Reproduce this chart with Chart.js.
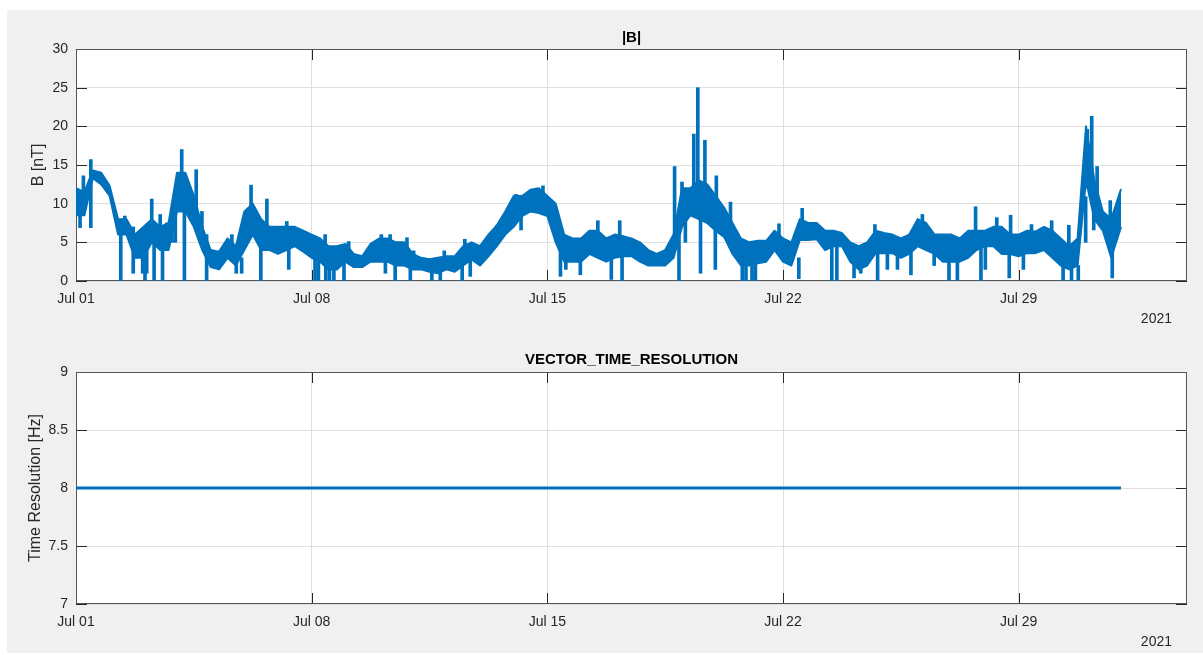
<!DOCTYPE html>
<html><head><meta charset="utf-8">
<script src="https://cdn.jsdelivr.net/npm/chart.js@4.4.1/dist/chart.umd.min.js"></script>
<style>
html,body{margin:0;padding:0;background:#fff;width:1203px;height:655px;overflow:hidden;}
#fig{position:absolute;left:7px;top:10px;width:1196px;height:643px;background:#f0f0f0;}
canvas{position:absolute;left:0;}
#c1{top:0;} #c2{top:330px;}
</style></head><body>
<div id="fig"></div>
<canvas id="c1" width="1203" height="330"></canvas>
<canvas id="c2" width="1203" height="325"></canvas>
<script>
// ---- data (time in days since 2021-07-01 00:00) ----
const binDays = 0.25; // 6-hour bins
// upper edge of the |B| body per 6h bin [nT]
const bandHigh = [
  12,11.5,14.3,14,  12.3,8,8,6,  7,8,7,7.5,  14,14,11,7,
  4,3.8,5.5,4.5,  9,10,8,7,  7,7,7,6.5,  6,5.5,4.5,4.5,
  4.8,3.5,3.2,4.8,  5.5,5.5,5,5,  3.5,3,2.8,3,  3.2,3.2,4.5,5,
  4.5,6,7.2,9,  11,11,11.8,12,  11,10,6,5.5,  5.5,6.5,6.5,5.5,
  6,5.8,5.5,5,  4,3.5,4,6,  12,12,13,12.5,  11,9.5,7.5,5.5,
  5,5.2,5.2,6.5,  5.5,5,8,7.5,  7.5,6.5,6.5,6.2,  5,4.5,5,6.5,
  6.2,6,5.5,6,  8,7.5,6,6,  6,5.5,6.5,6.5,  6.5,7,7,6,
  6,6.5,6.4,7,  6.5,5.5,4.5,5.5,  20,13,9,8
];
// lower edge of the |B| body per 6h bin [nT]
const bandLow = [
  8.5,8.5,13.3,12.5,  11,6,6,3,  3,5,4,4,  9,9,7,4,
  1.8,1.5,3,2,  4,6,4,4,  3.5,4,4.5,3.8,  3,2.5,1.5,1.5,
  2.5,1.8,1.8,2.5,  2.5,2.5,2,2,  1.5,1.5,1.2,1,  1.5,1.2,2,2.8,
  2,3.2,4.5,6,  7,8.4,9,8.8,  8.4,5,2.5,2.5,  2.5,3.5,3,2.5,
  3,3.2,3.2,2.5,  2,2,2,3,  7,8.5,8,7.5,  6.5,5.7,3.5,2,
  2,2.3,2.5,4,  2.5,2,5.3,5.3,  5.4,4,4.5,4.5,  2.5,1.5,2,3.6,
  3.6,3.6,3,3.5,  4.5,4,3.5,2.5,  2.5,2.5,3,4,  4.5,4.5,3.5,3.5,
  3.2,3.6,3.6,4,  3,2,1.5,2,  13,8,6.5,3
];
const bandEndDay = 31.04, bandEndHigh = 11.9, bandEndLow = 7;
// short excursions (spikes) of |B|: time [day], lowest and highest value [nT]
const spikeDays = [
  0.12,0.22,0.44,1.33,1.45,1.70,1.98,2.05,2.10,2.25,
  2.32,2.50,2.57,2.70,2.85,2.95,3.14,3.22,3.57,3.74,
  3.88,4.63,4.76,4.92,5.20,5.49,5.67,6.26,6.32,7.10,
  7.20,7.40,7.42,7.53,7.66,7.96,8.10,9.07,9.19,9.33,
  9.48,9.83,9.93,10.03,10.57,10.82,10.94,11.47,11.55,11.71,
  12.50,13.07,13.22,13.87,14.39,14.55,14.98,15.50,15.90,16.15,
  16.22,17.78,17.91,18.00,18.10,18.35,18.47,18.55,18.68,18.99,
  19.02,19.44,19.79,19.90,20.08,20.18,20.88,21.47,21.57,22.45,
  22.60,23.11,23.31,23.73,23.81,24.10,24.40,24.80,25.14,25.49,
  25.93,26.18,26.72,26.88,27.01,27.35,27.72,27.76,28.14,28.38,
  28.98,29.32,29.49,29.57,29.77,29.99,30.04,30.17,30.23,30.33,
  30.72,30.78
];
const spikeLows = [
  6.9,10,6.9,0,6,1,1,0,1,5,
  0,5,0,5,5,5,10,0,9,5,
  0,3,1,1,6,0,5,4,1.5,0,
  0,3,0,0,0,0,3,3,1,3,
  0,3,0,2,0,0,2,0,3,0.6,
  5,9,6.6,10,0.6,1.5,0.8,5,0.2,4,
  0,4,0,9,5,10,10,1,10,1.5,
  9,6,0,0,0,0,5,0.3,6,0,
  0,0.4,1,4,0,1.5,1.5,0.8,6,2,
  0,0,5,0,1.5,6,0.4,6,1.5,5,
  6,0,4,0,0,5,12,14,6.6,10,
  7,0.4
];
const spikeHighs = [
  10,13.6,15.7,7,8.4,7,4,5,4,10.6,
  6,8.6,6,7.5,7.5,9.6,17,12,14.4,9,
  6,6,3,3,12.4,7,10.6,7.7,5,4,
  3,6,3,4,3,3,5.1,6,3,6,
  4,5.6,3,3.9,2,2,3.9,2,5.4,3,
  7.2,11.2,9,12.3,6,4,3,7.8,3,7.8,
  4,14.8,8,12.8,8,19,25,9,18.2,8,
  13.6,10.2,3,3,3,3,7.4,3,9.4,5,
  5,3,2,7.3,4,4,4,4,8.6,4.5,
  3,3,9.6,4.5,4.5,8.2,4,8.5,3.5,7.3,
  7.8,2.5,7.2,2,2,10.9,19.6,21.3,10,14.8,
  10.4,5
];
const resTimes = [0, 31.04];
const resValues = [8, 8];
const tickDays = [0, 7, 14, 21, 28];
const tickLabels = ['Jul 01', 'Jul 08', 'Jul 15', 'Jul 22', 'Jul 29'];
const yearLabel = '2021';

// ---- build datasets ----
const hiPts = bandHigh.map((v, i) => ({x: i * binDays, y: v}));
hiPts.push({x: bandEndDay, y: bandEndHigh});
const loPts = bandLow.map((v, i) => ({x: i * binDays, y: v}));
loPts.push({x: bandEndDay, y: bandEndLow});
const spikePts = spikeDays.map((d, i) => ({x: d, y: [spikeLows[i], spikeHighs[i]]}));
const resPoints = resTimes.map((t, i) => ({x: t, y: resValues[i]}));

const FONT = "'Liberation Sans', Arial, Helvetica, sans-serif";
const TXT = '#262626';
const GRID = '#dfdfdf';
const BLUE = '#0072BD';

const matlabAxes = {
  id: 'matlabAxes',
  beforeDraw(chart) {
    const {ctx, chartArea: a} = chart;
    ctx.save();
    ctx.fillStyle = '#ffffff';
    ctx.fillRect(a.left, a.top, a.right - a.left, a.bottom - a.top);
    ctx.restore();
  },
  beforeDatasetsDraw(chart) {
    const {ctx, chartArea: a, scales} = chart;
    const L = 11;
    ctx.save();
    ctx.strokeStyle = TXT; ctx.lineWidth = 1;
    ctx.beginPath();
    scales.x.ticks.forEach(t => {
      const px = Math.round(scales.x.getPixelForValue(t.value)) + 0.5;
      ctx.moveTo(px, a.bottom); ctx.lineTo(px, a.bottom - L);
      ctx.moveTo(px, a.top); ctx.lineTo(px, a.top + L);
    });
    scales.y.ticks.forEach(t => {
      const py = Math.round(scales.y.getPixelForValue(t.value)) + 0.5;
      ctx.moveTo(a.left, py); ctx.lineTo(a.left + L, py);
      ctx.moveTo(a.right, py); ctx.lineTo(a.right - L, py);
    });
    ctx.stroke();
    ctx.strokeStyle = '#555555';
    ctx.strokeRect(a.left + 0.5, a.top + 0.5, a.right - a.left - 1, a.bottom - a.top - 1);
    ctx.restore();
  },
  afterDraw(chart, args, o) {
    const {ctx, chartArea: a} = chart;
    ctx.save();
    ctx.fillStyle = '#000000';
    ctx.font = 'bold 15px ' + FONT;
    ctx.textAlign = 'center'; ctx.textBaseline = 'middle';
    ctx.fillText(o.title, (a.left + a.right) / 2, a.top - o.titleGap);
    ctx.fillStyle = TXT;
    ctx.font = '14px ' + FONT;
    ctx.textAlign = 'right';
    ctx.fillText(yearLabel, a.right - 15, o.yearY);
    ctx.restore();
  }
};

function xScale(h) {
  return {
    type: 'linear', min: 0, max: 33, offset: false,
    afterBuildTicks: s => { s.ticks = tickDays.map(v => ({value: v})); },
    afterFit: s => { s.height = h; },
    ticks: {callback: (v, i) => tickLabels[i], color: TXT, font: {family: FONT, size: 14}, padding: 10, maxRotation: 0, autoSkip: false},
    grid: {color: GRID, drawTicks: false, lineWidth: 1, offset: false},
    border: {display: false}
  };
}
function yScale(min, max, step, title, pad) {
  return {
    type: 'linear', min: min, max: max,
    ticks: {stepSize: step, color: TXT, font: {family: FONT, size: 14}, padding: 8, callback: v => String(v)},
    afterFit: s => { s.width = 76; },
    grid: {color: GRID, drawTicks: false, lineWidth: 1},
    border: {display: false},
    title: {display: true, text: title, color: TXT, font: {family: FONT, size: 16}, padding: {top: pad, bottom: 0}}
  };
}
function makeChart(id, datasets, yOpts, xH, padTop, plug) {
  return new Chart(document.getElementById(id), {
    type: 'line',
    data: {datasets: datasets},
    options: {
      responsive: false, animation: false,
      layout: {padding: {left: 0, right: 16, top: padTop, bottom: 0}},
      scales: {x: xScale(xH), y: yOpts},
      plugins: {legend: {display: false}, tooltip: {enabled: false}, title: {display: false}, matlabAxes: plug}
    },
    plugins: [matlabAxes]
  });
}
const lineStyle = {borderColor: BLUE, pointRadius: 0, tension: 0, borderJoinStyle: 'round'};
makeChart('c1', [
  Object.assign({data: hiPts, borderWidth: 2, fill: false}, lineStyle),
  Object.assign({data: loPts, borderWidth: 2, fill: '-1', backgroundColor: BLUE}, lineStyle),
  {type: 'bar', data: spikePts, backgroundColor: BLUE, borderWidth: 0, barThickness: 3, grouped: false, borderSkipped: false}
], yScale(0, 30, 5, 'B [nT]', 29.4), 49, 49, {title: '|B|', titleGap: 11.5, yearY: 319});
makeChart('c2', [
  Object.assign({data: resPoints, borderWidth: 3, fill: false}, lineStyle)
], yScale(7, 9, 0.5, 'Time Resolution [Hz]', 26), 51, 42, {title: 'VECTOR_TIME_RESOLUTION', titleGap: 12, yearY: 312});
</script>
</body></html>
